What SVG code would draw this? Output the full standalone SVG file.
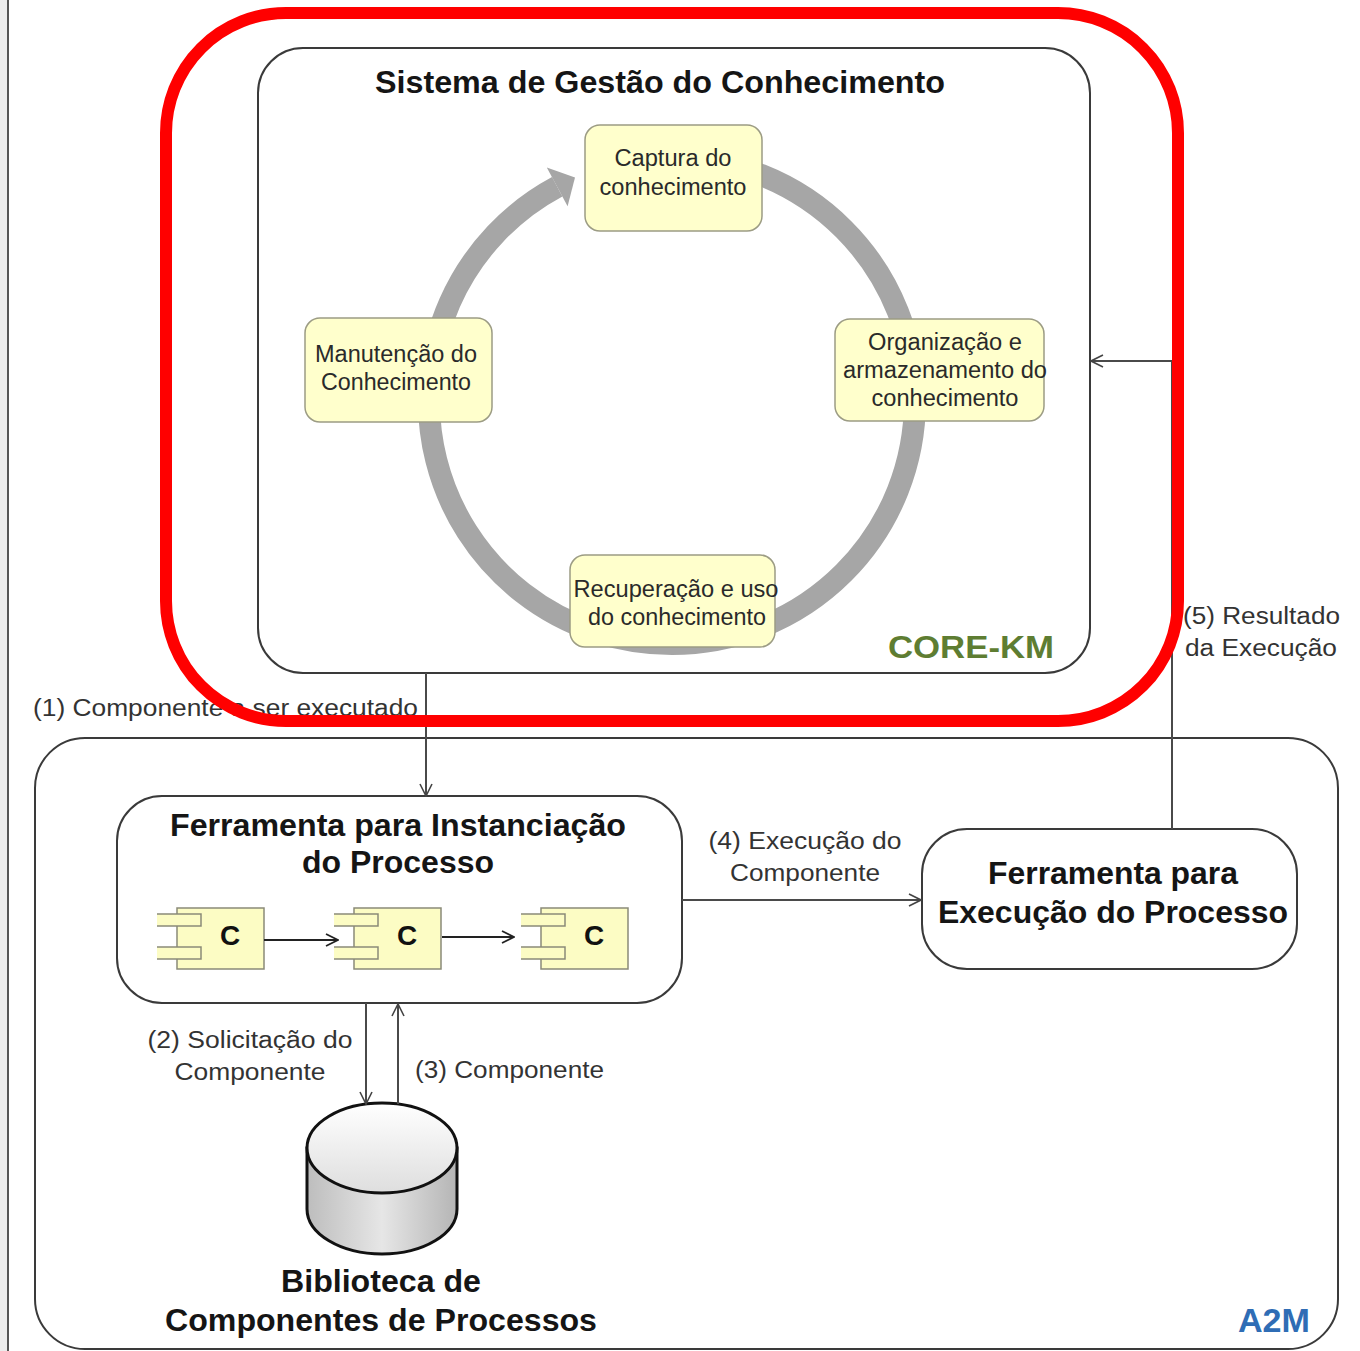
<svg xmlns="http://www.w3.org/2000/svg" width="1360" height="1351" viewBox="0 0 1360 1351">
<style>
.lbl{font-family:"Liberation Sans",Arial,sans-serif;font-size:23px;fill:#333}
.box{font-family:"Liberation Sans",Arial,sans-serif;font-size:23px;fill:#2a2a2a}
.bold{font-family:"Liberation Sans",Arial,sans-serif;font-weight:bold;font-size:31px;fill:#151515}
.cyc{fill:#ffffcc;stroke:#9c9c84;stroke-width:1.5}
.cont{fill:#ffffff;stroke:#3a3a3a;stroke-width:2}
.conn{fill:none;stroke:#4a4a4a;stroke-width:2}
.comp{fill:#fcfcc4;stroke:#8a8a78;stroke-width:1.5}
</style>
<defs>
<marker id="arr" viewBox="0 0 14 14" refX="13" refY="7" markerWidth="14" markerHeight="14" markerUnits="userSpaceOnUse" orient="auto">
<path d="M1,1 L13,7 L1,13" fill="none" stroke="#444" stroke-width="1.6"/>
</marker>
<marker id="arrk" viewBox="0 0 14 14" refX="13" refY="7" markerWidth="14" markerHeight="14" markerUnits="userSpaceOnUse" orient="auto">
<path d="M1,1 L13,7 L1,13" fill="none" stroke="#222" stroke-width="1.8"/>
</marker>
<linearGradient id="cylSide" x1="0" y1="0" x2="1" y2="0">
<stop offset="0" stop-color="#bdbdbd"/>
<stop offset="0.5" stop-color="#e6e6e6"/>
<stop offset="1" stop-color="#b5b5b5"/>
</linearGradient>
<linearGradient id="cylTop" x1="0" y1="0" x2="0" y2="1">
<stop offset="0" stop-color="#ffffff"/>
<stop offset="1" stop-color="#dedede"/>
</linearGradient>
<g id="compIcon">
<rect class="comp" x="0" y="0" width="87" height="61"/>
<rect x="-20" y="6" width="44" height="12" fill="#fcfcc4"/>
<path d="M-20,6 H24 V18 H-20" fill="none" stroke="#8a8a78" stroke-width="1.5"/>
<rect x="-20" y="39" width="44" height="12" fill="#fcfcc4"/>
<path d="M-20,39 H24 V51 H-20" fill="none" stroke="#8a8a78" stroke-width="1.5"/>
<text x="53" y="37" text-anchor="middle" font-family="Liberation Sans, Arial, sans-serif" font-weight="bold" font-size="28" fill="#111">C</text>
</g>
</defs>

<rect x="0" y="0" width="1360" height="1351" fill="#ffffff"/>
<rect x="0" y="0" width="7" height="1351" fill="#ececec"/>
<line x1="8" y1="0" x2="8" y2="1351" stroke="#555" stroke-width="2"/>

<g id="a2m">
<rect class="cont" x="35" y="738" width="1303" height="611" rx="50"/>
<text x="1310" y="1332" text-anchor="end" font-family="Liberation Sans, Arial, sans-serif" font-weight="bold" font-size="33" fill="#2f6db5" textLength="72" lengthAdjust="spacingAndGlyphs">A2M</text>
</g>

<g id="corekm">
<rect class="cont" x="258" y="48" width="832" height="625" rx="45"/>
<text class="bold" x="660" y="93" text-anchor="middle" textLength="570" lengthAdjust="spacingAndGlyphs">Sistema de Gestão do Conhecimento</text>
<text x="1054" y="658" text-anchor="end" font-family="Liberation Sans, Arial, sans-serif" font-weight="bold" font-size="31" fill="#5e7d32" textLength="166" lengthAdjust="spacingAndGlyphs">CORE-KM</text>
</g>

<g id="cycle">
<path d="M672,158 A243,243 0 0 1 672,644 A243,243 0 0 1 557.2,186.8" fill="none" stroke="#a6a6a6" stroke-width="22"/>
<polygon points="575,177.5 546.8,167.4 567.6,206.2" fill="#a6a6a6"/>
</g>

<g id="captura">
<rect class="cyc" x="585" y="125" width="177" height="106" rx="15"/>
<text class="box" x="673" y="166" text-anchor="middle" textLength="117" lengthAdjust="spacingAndGlyphs">Captura do</text>
<text class="box" x="673" y="195" text-anchor="middle" textLength="147" lengthAdjust="spacingAndGlyphs">conhecimento</text>
</g>
<g id="organizacao">
<rect class="cyc" x="835" y="319" width="209" height="102" rx="15"/>
<text class="box" x="945" y="350" text-anchor="middle" textLength="154" lengthAdjust="spacingAndGlyphs">Organização e</text>
<text class="box" x="945" y="378" text-anchor="middle" textLength="204" lengthAdjust="spacingAndGlyphs">armazenamento do</text>
<text class="box" x="945" y="406" text-anchor="middle" textLength="147" lengthAdjust="spacingAndGlyphs">conhecimento</text>
</g>
<g id="manutencao">
<rect class="cyc" x="305" y="318" width="187" height="104" rx="15"/>
<text class="box" x="396" y="362" text-anchor="middle" textLength="162" lengthAdjust="spacingAndGlyphs">Manutenção do</text>
<text class="box" x="396" y="390" text-anchor="middle" textLength="150" lengthAdjust="spacingAndGlyphs">Conhecimento</text>
</g>
<g id="recuperacao">
<rect class="cyc" x="570" y="555" width="205" height="92" rx="15"/>
<text class="box" x="676" y="597" text-anchor="middle" textLength="205" lengthAdjust="spacingAndGlyphs">Recuperação e uso</text>
<text class="box" x="677" y="625" text-anchor="middle" textLength="178" lengthAdjust="spacingAndGlyphs">do conhecimento</text>
</g>

<g id="instanciacao">
<rect class="cont" x="117" y="796" width="565" height="207" rx="45"/>
<text class="bold" x="398" y="836" text-anchor="middle" textLength="456" lengthAdjust="spacingAndGlyphs">Ferramenta para Instanciação</text>
<text class="bold" x="398" y="873" text-anchor="middle" textLength="192" lengthAdjust="spacingAndGlyphs">do Processo</text>
<use href="#compIcon" x="177" y="908"/>
<use href="#compIcon" x="354" y="908"/>
<use href="#compIcon" x="541" y="908"/>
</g>

<g id="execucao">
<rect class="cont" x="922" y="829" width="375" height="140" rx="45"/>
<text class="bold" x="1113" y="884" text-anchor="middle" textLength="250" lengthAdjust="spacingAndGlyphs">Ferramenta para</text>
<text class="bold" x="1113" y="923" text-anchor="middle" textLength="350" lengthAdjust="spacingAndGlyphs">Execução do Processo</text>
</g>

<g id="biblioteca">
<path d="M307,1148 V1209 A75,45 0 0 0 457,1209 V1148 Z" fill="url(#cylSide)" stroke="#111" stroke-width="3"/>
<ellipse cx="382" cy="1148" rx="75" ry="45" fill="url(#cylTop)" stroke="#111" stroke-width="3"/>
<text class="bold" x="381" y="1292" text-anchor="middle" textLength="200" lengthAdjust="spacingAndGlyphs">Biblioteca de</text>
<text class="bold" x="381" y="1331" text-anchor="middle" textLength="432" lengthAdjust="spacingAndGlyphs">Componentes de Processos</text>
</g>

<g id="connectors">
<line class="conn" x1="426" y1="673" x2="426" y2="796" marker-end="url(#arr)"/>
<line class="conn" x1="366" y1="1003" x2="366" y2="1104" marker-end="url(#arr)"/>
<line class="conn" x1="398" y1="1104" x2="398" y2="1004" marker-end="url(#arr)"/>
<line class="conn" x1="682" y1="900" x2="921" y2="900" marker-end="url(#arr)"/>
<path class="conn" d="M1172,829 V361 H1091" marker-end="url(#arr)"/>
<line x1="264" y1="940" x2="338" y2="940" stroke="#222" stroke-width="2" marker-end="url(#arrk)"/>
<line x1="442" y1="937" x2="514" y2="937" stroke="#222" stroke-width="2" marker-end="url(#arrk)"/>
<text class="lbl" x="33" y="716" textLength="385" lengthAdjust="spacingAndGlyphs">(1) Componente a ser executado</text>
<text class="lbl" x="250" y="1048" text-anchor="middle" textLength="205" lengthAdjust="spacingAndGlyphs">(2) Solicitação do</text>
<text class="lbl" x="250" y="1080" text-anchor="middle" textLength="151" lengthAdjust="spacingAndGlyphs">Componente</text>
<text class="lbl" x="415" y="1078" textLength="189" lengthAdjust="spacingAndGlyphs">(3) Componente</text>
<text class="lbl" x="805" y="849" text-anchor="middle" textLength="193" lengthAdjust="spacingAndGlyphs">(4) Execução do</text>
<text class="lbl" x="805" y="881" text-anchor="middle" textLength="150" lengthAdjust="spacingAndGlyphs">Componente</text>
<text class="lbl" x="1183" y="624" textLength="157" lengthAdjust="spacingAndGlyphs">(5) Resultado</text>
<text class="lbl" x="1185" y="656" textLength="152" lengthAdjust="spacingAndGlyphs">da Execução</text>
</g>

<g id="highlight">
<rect x="166" y="13" width="1012" height="708" rx="120" fill="none" stroke="#ff0000" stroke-width="12"/>
</g>
</svg>
